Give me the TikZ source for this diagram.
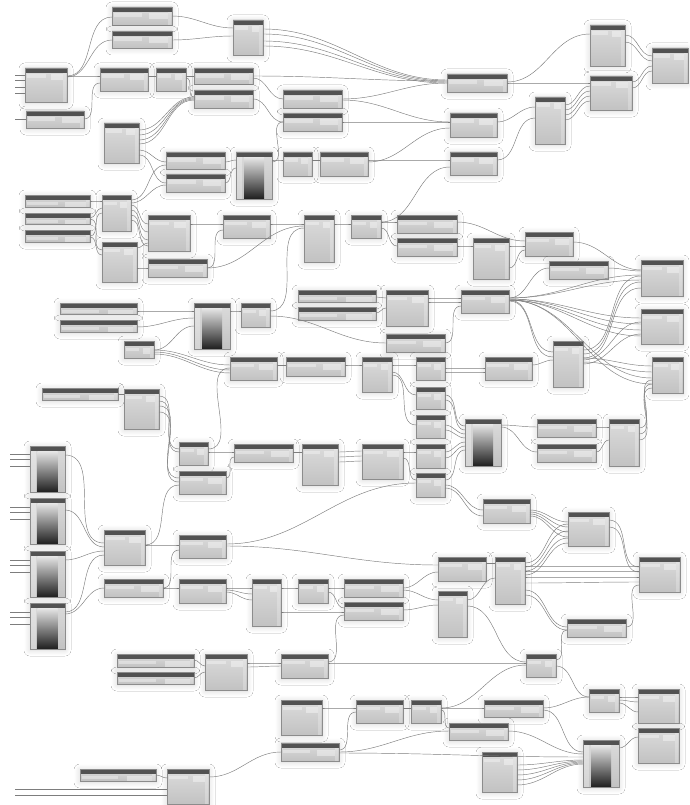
\documentclass[tikz,border=0pt]{standalone}
\usetikzlibrary{shadows.blur,calc}
\definecolor{bodytop}{RGB}{220,220,220}
\definecolor{bodybot}{RGB}{194,194,194}
\definecolor{hdr}{RGB}{82,82,82}
\definecolor{nborder}{RGB}{140,140,140}
\definecolor{wirecol}{RGB}{125,125,125}
\tikzset{
  nshadow/.style={blur shadow={shadow xshift=0pt, shadow yshift=-1pt, shadow blur radius=6pt, shadow blur steps=16, shadow opacity=16}},
  gnode/.style={draw=nborder, line width=0.4pt, top color=bodytop, bottom color=bodybot,
    anchor=north west, inner sep=0pt, outer sep=0pt, nshadow,
    path picture={
      \fill[white, opacity=0.35] ([xshift=1.5pt,yshift=-6.5pt]path picture bounding box.north west) rectangle ($([yshift=-10pt]path picture bounding box.north west)!0.5!([yshift=-10pt]path picture bounding box.north east)$);
      \fill[white, opacity=0.4] ($([yshift=-6.5pt]path picture bounding box.north west)!0.62!([yshift=-6.5pt]path picture bounding box.north east)$) rectangle ([xshift=-4pt,yshift=-12.5pt]path picture bounding box.north east);
      \fill[white, opacity=0.25] ([xshift=-4pt,yshift=-5pt]path picture bounding box.north east) rectangle ([xshift=-1pt]path picture bounding box.south east);
      \fill[hdr] (path picture bounding box.north west) rectangle ([yshift=-5pt]path picture bounding box.north east);}},
  gradnode/.style={draw=nborder, line width=0.4pt, top color=bodytop, bottom color=bodybot,
    anchor=north west, inner sep=0pt, outer sep=0pt, nshadow,
    path picture={\shade[top color=white, bottom color=black!88] ([xshift=#1,yshift=-5pt]path picture bounding box.north west) rectangle ([xshift=-#1]path picture bounding box.south east);
      \fill[white, opacity=0.3] ([xshift=1pt,yshift=-5pt]path picture bounding box.north west) rectangle ([xshift=#1-2pt]path picture bounding box.south west);
      \fill[hdr] (path picture bounding box.north west) rectangle ([yshift=-5pt]path picture bounding box.north east);}},
  gradnode/.default=8pt,
  wire/.style={draw=wirecol, line width=0.45pt}
}
\newcommand\gnd[5]{\node[gnode, minimum width={#4pt-#2pt}, minimum height={#5pt-#3pt}] (#1) at (#2,#3) {};}
\newcommand\grn[5]{\node[gradnode, minimum width={#4pt-#2pt}, minimum height={#5pt-#3pt}] (#1) at (#2,#3) {};}
\newcommand\grs[5]{\node[gradnode=7.5pt, minimum width={#4pt-#2pt}, minimum height={#5pt-#3pt}] (#1) at (#2,#3) {};}
\newcommand\wire[4]{\draw[wire] (#1.east |- 0,#2) to[out=0,in=180] (#3.west |- 0,#4);}
\newcommand\stub[4]{\coordinate (#1) at (#3,#4); \draw[wire] (#1) -- (#2.west |- #1);}
\begin{document}
\begin{tikzpicture}[x=1pt,y=-1pt]
\fill[white] (0,0) rectangle (689,805);
\useasboundingbox (0,0) rectangle (689,805);
% top
\gnd{N1}{112}{7}{172}{25}
\gnd{N2}{112}{31}{172}{48}
\gnd{N3}{233}{20}{263}{55}
\gnd{N4}{25}{68}{67}{102}
\gnd{N5}{100}{68}{148}{91}
\gnd{N6}{156}{68}{186}{91}
\gnd{N7}{194}{68}{253}{84}
\gnd{N8}{194}{90}{253}{108}
\gnd{N9}{26}{111}{84}{128}
\gnd{N10}{104}{123}{139}{163}
\gnd{N11}{283}{90}{342}{108}
\gnd{N12}{283}{113}{342}{131}
\gnd{N13}{166}{152}{225}{169}
\gnd{N14}{166}{174}{225}{192}
\grn{N15}{236}{152}{272}{199}
\gnd{N16}{283}{152}{312}{176}
\gnd{N17}{320}{152}{368}{176}
\gnd{N18}{447}{74}{507}{92}
\gnd{N19}{590}{25}{625}{66}
\gnd{N20}{652}{48}{688}{83}
\gnd{N21}{590}{76}{632}{110}
\gnd{N22}{535}{97}{565}{144}
\gnd{N23}{450}{113}{497}{137}
\gnd{N24}{450}{152}{497}{175}
% mid
\gnd{N25}{25}{195}{90}{207}
\gnd{N26}{25}{213}{90}{224}
\gnd{N27}{25}{230}{90}{242}
\gnd{N28}{102}{195}{131}{231}
\gnd{N29}{102}{242}{137}{282}
\gnd{N30}{148}{215}{190}{251}
\gnd{N31}{148}{259}{207}{277}
\gnd{N32}{223}{215}{270}{238}
\gnd{N33}{304}{215}{334}{262}
\gnd{N34}{60}{303}{137}{314}
\gnd{N35}{60}{320}{137}{332}
\grn{N36}{194}{303}{230}{349}
\gnd{N37}{241}{303}{270}{327}
\gnd{N38}{124}{341}{154}{358}
\gnd{N39}{230}{357}{277}{380}
\gnd{N40}{286}{357}{345}{376}
\gnd{N41}{298}{290}{376}{302}
\gnd{N42}{298}{307}{376}{320}
\gnd{N43}{351}{215}{381}{238}
\gnd{N44}{397}{215}{457}{233}
\gnd{N45}{397}{238}{457}{256}
\gnd{N46}{473}{238}{509}{279}
\gnd{N47}{525}{232}{573}{256}
\gnd{N48}{549}{261}{608}{279}
\gnd{N49}{641}{260}{683}{296}
\gnd{N50}{641}{309}{683}{344}
\gnd{N51}{652}{357}{683}{393}
\gnd{N52}{386}{290}{428}{326}
\gnd{N53}{461}{290}{509}{313}
\gnd{N54}{386}{334}{445}{352}
\gnd{N55}{553}{341}{583}{387}
\gnd{N56}{485}{357}{532}{380}
\gnd{N57}{362}{357}{392}{392}
\gnd{N58}{416}{357}{445}{380}
\gnd{N59}{416}{387}{445}{409}
\gnd{N60}{416}{415}{445}{438}
\gnd{N61}{416}{444}{445}{468}
\gnd{N62}{416}{473}{445}{497}
\gnd{N63}{42}{388}{118}{400}
\gnd{N64}{124}{389}{159}{429}
\gnd{N65}{179}{442}{208}{465}
\gnd{N66}{179}{471}{226}{494}
\gnd{N67}{234}{444}{293}{462}
\gnd{N68}{302}{444}{338}{485}
\grs{G1}{30}{446}{65}{492}
\grs{G2}{30}{498}{65}{544}
\grs{G3}{30}{551}{65}{597}
\grs{G4}{30}{603}{65}{649}
\gnd{N69}{104}{530}{145}{565}
\gnd{N70}{179}{535}{226}{558}
\gnd{N71}{104}{579}{163}{597}
\gnd{N72}{179}{579}{226}{603}
\gnd{N73}{252}{579}{281}{626}
\gnd{N74}{298}{579}{328}{603}
\gnd{N75}{344}{579}{403}{597}
\gnd{N76}{344}{602}{403}{620}
\grn{N78}{465}{419}{501}{466}
\gnd{N79}{537}{419}{596}{437}
\gnd{N80}{537}{444}{596}{462}
\gnd{N81}{609}{419}{639}{466}
\gnd{N82}{362}{444}{403}{479}
\gnd{N83}{483}{499}{530}{523}
\gnd{N84}{568}{512}{609}{546}
\gnd{N85}{438}{557}{486}{581}
\gnd{N86}{495}{557}{525}{604}
\gnd{N87}{639}{557}{680}{592}
\gnd{N88}{438}{591}{467}{637}
\gnd{N89}{567}{619}{626}{637}
\gnd{N90}{526}{654}{556}{677}
% bottom
\gnd{N91}{117}{654}{194}{667}
\gnd{N92}{117}{672}{194}{684}
\gnd{N93}{205}{654}{247}{690}
\gnd{N94}{281}{654}{328}{678}
\gnd{N95}{281}{700}{322}{735}
\gnd{N96}{281}{743}{339}{761}
\gnd{N97}{80}{769}{156}{781}
\gnd{N98}{167}{769}{209}{804}
\gnd{N99}{356}{700}{403}{723}
\gnd{N100}{411}{700}{441}{723}
\gnd{N101}{484}{700}{543}{717}
\gnd{N102}{449}{723}{508}{740}
\gnd{N103}{482}{752}{517}{792}
\grn{N104}{583}{740}{619}{787}
\gnd{N105}{589}{689}{619}{712}
\gnd{N106}{638}{689}{679}{723}
\gnd{N107}{638}{728}{679}{763}
% ---------- stubs
\stub{a1}{N4}{15}{75}\stub{a2}{N4}{15}{80}\stub{a3}{N4}{15}{87}\stub{a4}{N4}{15}{93}
\stub{b1}{N9}{15}{119}
\stub{c1}{G1}{10}{454}\stub{c2}{G1}{10}{459}\stub{c3}{G1}{10}{466}
\stub{d1}{G2}{10}{507}\stub{d2}{G2}{10}{512}\stub{d3}{G2}{10}{519}
\stub{e1}{G3}{10}{560}\stub{e2}{G3}{10}{565}\stub{e3}{G3}{10}{572}
\stub{f1}{G4}{10}{612}\stub{f2}{G4}{10}{617}\stub{f3}{G4}{10}{624}
\stub{h1}{N98}{15}{789}\stub{h2}{N98}{15}{795}
% ---------- wires: top
\wire{N4}{76}{N1}{17}
\wire{N4}{77}{N2}{40}
\wire{N4}{76}{N5}{76}
\wire{N9}{119}{N5}{83}
\wire{N1}{16}{N3}{28}
\wire{N2}{40}{N3}{36}
\wire{N3}{29}{N18}{80}\wire{N3}{34}{N18}{81}\wire{N3}{41}{N18}{82}\wire{N3}{46}{N18}{83}
\wire{N5}{76}{N6}{76}
\wire{N6}{76}{N7}{76}
\wire{N6}{78}{N8}{97}
\wire{N7}{76}{N18}{81}
\wire{N7}{78}{N11}{99}
\wire{N8}{99}{N12}{122}
\wire{N10}{130}{N8}{97}\wire{N10}{135}{N8}{98}\wire{N10}{140}{N8}{99}\wire{N10}{144}{N8}{100}
\wire{N10}{150}{N13}{162}
\wire{N10}{155}{N14}{183}
\wire{N28}{200}{N13}{165}
\wire{N28}{203}{N14}{185}
\wire{N13}{162}{N15}{160}
\wire{N14}{183}{N15}{168}
\wire{N15}{160}{N16}{160}
\wire{N15}{162}{N12}{122}
\wire{N16}{160}{N17}{160}
\wire{N17}{160}{N24}{160}
\wire{N17}{162}{N23}{128}
\wire{N11}{99}{N18}{83}
\wire{N11}{100}{N23}{122}
\wire{N12}{122}{N23}{122}
\wire{N43}{222}{N24}{167}
\wire{N18}{82}{N19}{34}
\wire{N18}{83}{N21}{83}
\wire{N23}{122}{N22}{107}
\wire{N24}{160}{N22}{118}
\wire{N22}{105}{N21}{86}\wire{N22}{110}{N21}{91}\wire{N22}{115}{N21}{96}\wire{N22}{120}{N21}{101}
\wire{N19}{35}{N20}{56}\wire{N19}{42}{N20}{61}
\wire{N21}{82}{N20}{66}\wire{N21}{88}{N20}{71}
% mid-left
\wire{N25}{201}{N28}{201}
\wire{N26}{218}{N28}{208}
\wire{N27}{236}{N28}{213}
\wire{N26}{219}{N29}{250}
\wire{N27}{237}{N29}{255}
\wire{N28}{205}{N30}{224}\wire{N28}{210}{N30}{232}\wire{N28}{215}{N30}{240}\wire{N28}{220}{N30}{246}
\wire{N29}{248}{N30}{243}
\wire{N29}{268}{N31}{268}
\wire{N30}{224}{N32}{224}
\wire{N31}{268}{N32}{230}
\wire{N31}{268}{N33}{226}
\wire{N32}{224}{N33}{224}
\wire{N33}{224}{N43}{224}
\wire{N37}{311}{N33}{228}
\wire{N43}{222}{N44}{222}
\wire{N43}{228}{N45}{246}
\wire{N34}{311}{N36}{311}
\wire{N35}{327}{N36}{318}
\wire{N38}{350}{N36}{326}
\wire{N36}{311}{N37}{311}
\wire{N37}{316}{N54}{343}
\wire{N38}{350}{N39}{365}\wire{N38}{352}{N39}{370}\wire{N38}{354}{N39}{373}
\wire{N65}{449}{N39}{368}
\wire{N39}{365}{N40}{365}
\wire{N40}{365}{N57}{365}
\wire{N41}{297}{N52}{298}
\wire{N42}{313}{N52}{308}
\wire{N52}{298}{N53}{298}
\wire{N52}{302}{N53}{302}
\wire{N54}{343}{N53}{306}
\wire{N44}{222}{N47}{241}
\wire{N45}{246}{N46}{246}
\wire{N46}{246}{N47}{246}
\wire{N46}{268}{N47}{250}
\wire{N47}{242}{N49}{270}
\wire{N48}{268}{N49}{271}
\wire{N53}{298}{N48}{268}
\wire{N53}{298}{N49}{275}\wire{N53}{298}{N49}{280}
\wire{N53}{299}{N50}{318}\wire{N53}{299}{N50}{324}\wire{N53}{300}{N50}{330}\wire{N53}{300}{N50}{336}
\wire{N53}{300}{N55}{352}\wire{N53}{301}{N55}{357}
\wire{N53}{300}{N51}{378}\wire{N53}{300}{N51}{384}
\wire{N55}{350}{N49}{276}\wire{N55}{354}{N49}{282}\wire{N55}{358}{N49}{288}
\wire{N55}{360}{N50}{322}\wire{N55}{364}{N50}{334}
\wire{N55}{358}{N51}{366}\wire{N55}{362}{N51}{372}
\wire{N56}{365}{N55}{360}
\wire{N57}{365}{N58}{365}
\wire{N58}{368}{N56}{368}\wire{N58}{372}{N56}{372}
\wire{N57}{372}{N59}{395}
\wire{N57}{375}{N60}{425}
\wire{N81}{428}{N51}{380}\wire{N81}{434}{N51}{384}\wire{N81}{440}{N51}{388}
% middle
\wire{N63}{394}{N64}{394}
\wire{N64}{396}{N65}{449}\wire{N64}{401}{N65}{452}\wire{N64}{406}{N66}{478}\wire{N64}{412}{N66}{482}
\wire{N65}{452}{N67}{452}
\wire{N66}{478}{N67}{457}
\wire{N67}{452}{N68}{452}
\wire{N68}{452}{N82}{451}\wire{N68}{457}{N82}{456}\wire{N68}{462}{N82}{461}
\wire{N82}{452}{N61}{452}
\wire{N82}{458}{N62}{480}
\wire{N70}{544}{N62}{483}
\wire{N70}{546}{N85}{565}
\wire{N59}{395}{N78}{426}\wire{N59}{400}{N78}{430}
\wire{N60}{425}{N78}{434}\wire{N60}{430}{N78}{438}
\wire{N61}{452}{N78}{442}\wire{N61}{458}{N78}{446}
\wire{N62}{480}{N78}{450}
\wire{N62}{485}{N83}{510}\wire{N62}{488}{N83}{516}
\wire{N78}{425}{N79}{427}
\wire{N78}{427}{N80}{452}
\wire{N79}{427}{N81}{427}
\wire{N80}{452}{N81}{440}
\wire{N83}{510}{N84}{522}\wire{N83}{512}{N84}{527}\wire{N83}{514}{N84}{532}\wire{N83}{516}{N84}{537}
\wire{N84}{520}{N87}{567}\wire{N84}{527}{N87}{572}
\wire{N85}{563}{N86}{563}
\wire{N86}{563}{N84}{524}\wire{N86}{567}{N84}{531}\wire{N86}{571}{N84}{538}\wire{N86}{575}{N84}{543}
\wire{N86}{566}{N87}{566}\wire{N86}{571}{N87}{571}\wire{N86}{577}{N87}{577}\wire{N86}{583}{N87}{582}
\wire{N86}{590}{N89}{627}\wire{N86}{595}{N89}{630}
\wire{N89}{627}{N87}{585}
\wire{N90}{660}{N89}{630}
\wire{G1}{455}{N69}{543}
\wire{G2}{510}{N69}{547}
\wire{G3}{560}{N69}{551}
\wire{G4}{612}{N69}{555}
\wire{G4}{614}{N71}{588}
\wire{N69}{545}{N66}{485}
\wire{N69}{545}{N70}{545}
\wire{N71}{588}{N70}{550}
\wire{N71}{588}{N72}{588}
\wire{N72}{588}{N73}{588}\wire{N72}{590}{N73}{594}\wire{N72}{592}{N73}{600}
\wire{N73}{588}{N74}{588}
\wire{N73}{612}{N76}{612}
\wire{N74}{588}{N75}{588}
\wire{N74}{592}{N76}{608}
\wire{N75}{588}{N85}{572}
\wire{N75}{590}{N88}{600}
\wire{N76}{610}{N88}{605}
\wire{N88}{600}{N86}{578}
\wire{N88}{606}{N90}{662}
\wire{N94}{662}{N76}{615}
\wire{N94}{663}{N90}{663}
% bottom
\wire{N91}{660}{N93}{666}
\wire{N92}{678}{N93}{672}
\wire{N93}{663}{N94}{663}\wire{N93}{667}{N94}{666}
\wire{N95}{708}{N99}{708}
\wire{N96}{752}{N102}{731}
\wire{N96}{753}{N104}{757}
\wire{N96}{750}{N99}{712}
\wire{N97}{775}{N98}{778}
\wire{N98}{777}{N96}{752}
\wire{N99}{708}{N100}{708}
\wire{N100}{708}{N90}{665}
\wire{N100}{708}{N101}{708}
\wire{N100}{710}{N102}{728}
\wire{N90}{666}{N105}{697}
\wire{N101}{708}{N105}{697}
\wire{N101}{710}{N104}{752}
\wire{N102}{731}{N104}{754}
\wire{N103}{765}{N104}{760}\wire{N103}{770}{N104}{761}\wire{N103}{775}{N104}{762}\wire{N103}{780}{N104}{763}\wire{N103}{785}{N104}{764}
\wire{N105}{697}{N106}{697}\wire{N105}{700}{N106}{702}\wire{N105}{703}{N106}{712}
\wire{N104}{748}{N107}{737}
\end{tikzpicture}
\end{document}
